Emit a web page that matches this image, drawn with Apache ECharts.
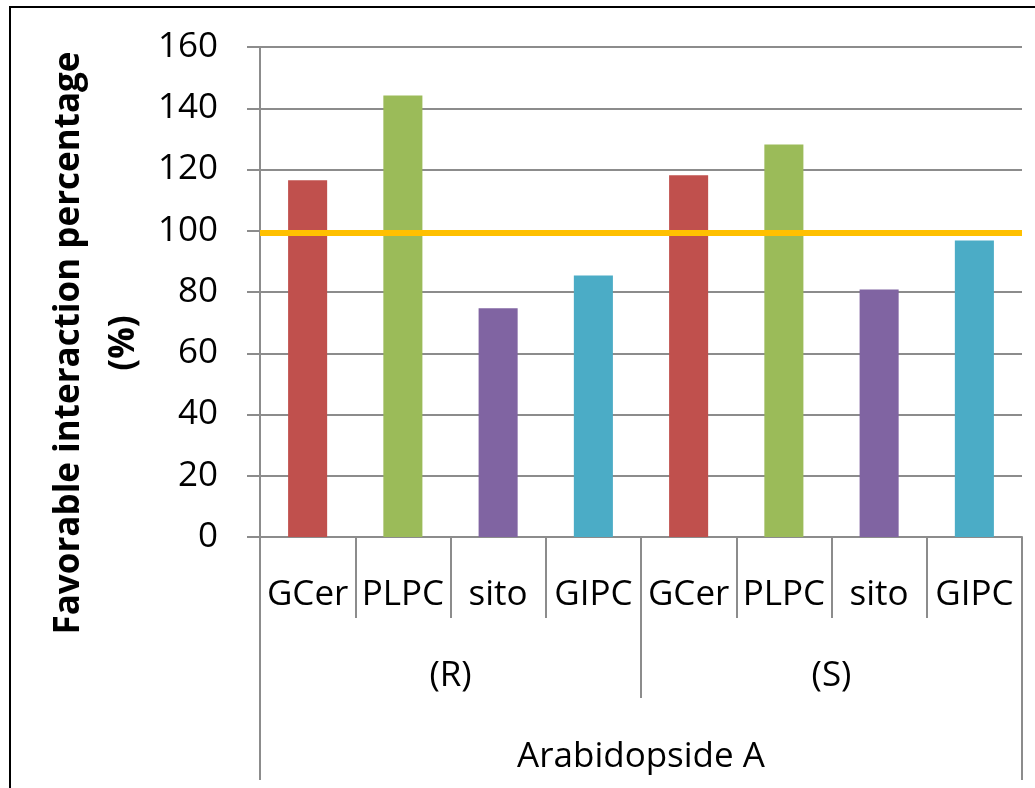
<!DOCTYPE html>
<html>
<head>
<meta charset="utf-8">
<script src="https://cdn.jsdelivr.net/npm/echarts@6/dist/echarts.min.js"></script>
<style>
  html, body { margin: 0; padding: 0; background: #ffffff; }
  #chart { width: 1035px; height: 788px; }
</style>
</head>
<body>
<div id="chart"></div>
<script>
// Lipid categories, repeated for each stereoisomer group
const categories = ['GCer', 'PLPC', 'sito', 'GIPC', 'GCer', 'PLPC', 'sito', 'GIPC'];
const groups = ['(R)', '(S)'];
const compound = ['Arabidopside A'];
// Favorable interaction percentage (%) per bar
const values = [116.5, 144.2, 74.7, 85.4, 118.1, 128.2, 80.8, 96.8];
// Reference level drawn as a horizontal line
const referenceLevel = 99.4;
const yTicks = { min: 0, max: 160, step: 20 };
const yTitle = 'Favorable interaction percentage\n(%)';

const palette = ['#C0504D', '#9BBB59', '#8064A2', '#4BACC6'];
const font = 'Open Sans';
const axisGray = '#8C8C8C';

const chart = echarts.init(document.getElementById('chart'), null, { renderer: 'canvas' });

const barData = values.map((v, i) => ({
  value: v,
  itemStyle: { color: palette[i % palette.length] }
}));

const option = {
  backgroundColor: '#ffffff',
  animation: false,
  textStyle: { fontFamily: font },
  grid: { left: 260, right: 13, top: 47, bottom: 251, containLabel: false },
  xAxis: [
    {
      type: 'category',
      data: categories,
      position: 'bottom',
      axisLine: { show: true, lineStyle: { color: axisGray, width: 2 } },
      axisTick: { show: true, interval: 0, length: 81, lineStyle: { color: axisGray, width: 2 } },
      axisLabel: { interval: 0, color: '#000', fontSize: 35, fontFamily: font, margin: 41 },
      splitLine: { show: false }
    },
    {
      type: 'category',
      data: groups,
      position: 'bottom',
      axisLine: { show: false },
      axisTick: { show: true, interval: 0, length: 161, lineStyle: { color: axisGray, width: 2 } },
      axisLabel: { interval: 0, color: '#000', fontSize: 35, fontFamily: font, margin: 122 },
      splitLine: { show: false }
    },
    {
      type: 'category',
      data: compound,
      position: 'bottom',
      axisLine: { show: false },
      axisTick: { show: true, interval: 0, length: 243, lineStyle: { color: axisGray, width: 2 } },
      axisLabel: { interval: 0, color: '#000', fontSize: 35, fontFamily: font, margin: 203 },
      splitLine: { show: false }
    }
  ],
  yAxis: {
    type: 'value',
    min: yTicks.min,
    max: yTicks.max,
    interval: yTicks.step,
    axisLine: { show: true, lineStyle: { color: axisGray, width: 2 } },
    axisTick: { show: true, length: 13, lineStyle: { color: axisGray, width: 2 } },
    axisLabel: { color: '#000', fontSize: 35, fontFamily: font, margin: 42 },
    splitLine: { show: true, lineStyle: { color: axisGray, width: 2 } }
  },
  series: [
    {
      type: 'bar',
      xAxisIndex: 0,
      data: barData,
      barWidth: '41%',
      markLine: {
        silent: true,
        symbol: 'none',
        label: { show: false },
        lineStyle: { color: '#FFC000', width: 6, type: 'solid' },
        data: [{ yAxis: referenceLevel }]
      }
    }
  ],
  graphic: [
    {
      type: 'rect',
      shape: { x: 10, y: 7, width: 1100, height: 1000 },
      style: { fill: 'none', stroke: '#000', lineWidth: 2 },
      silent: true
    },
    {
      // vertical axis title, two centred lines
      type: 'text',
      x: 97,
      y: 343,
      rotation: Math.PI / 2,
      silent: true,
      style: {
        text: yTitle,
        fill: '#000',
        font: 'bold 35px "Open Sans"',
        lineHeight: 55,
        align: 'center',
        verticalAlign: 'middle'
      }
    }
  ]
};

chart.setOption(option);
</script>
</body>
</html>
